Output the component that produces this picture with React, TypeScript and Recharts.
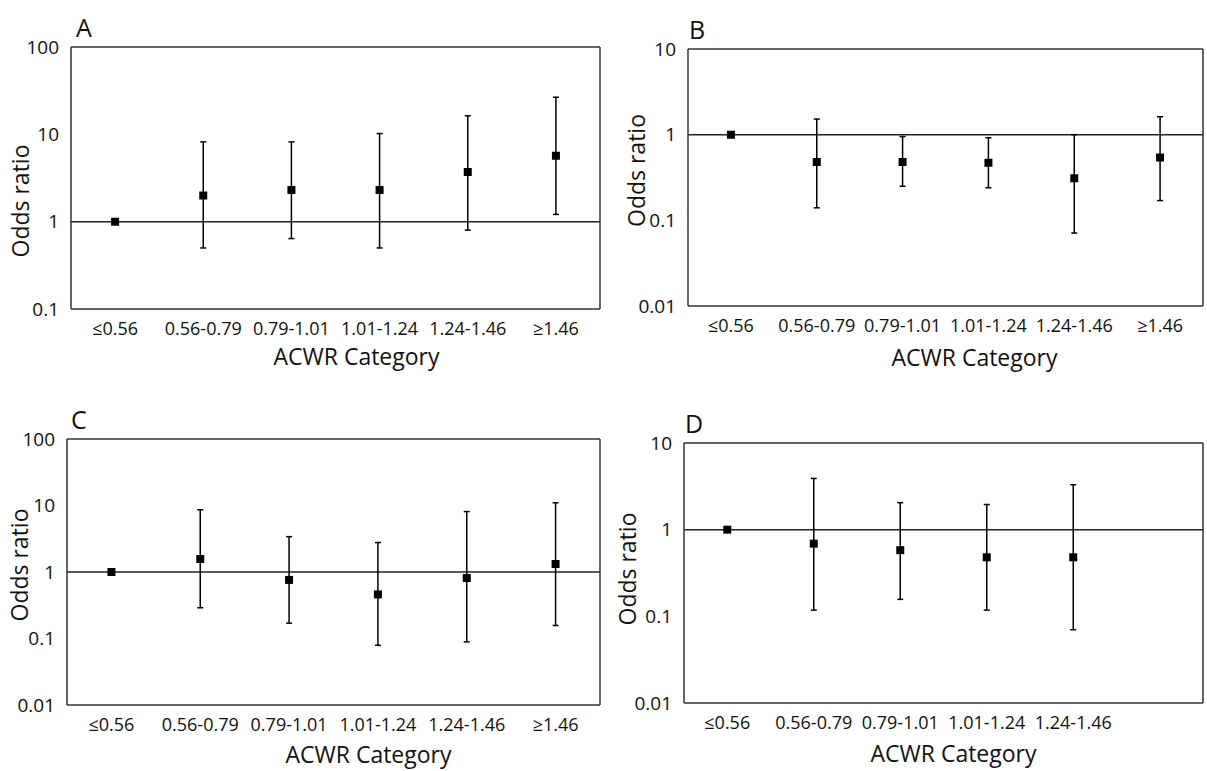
import {
  ComposedChart,
  Scatter,
  ErrorBar,
  XAxis,
  YAxis,
  ZAxis,
  ReferenceLine,
} from "recharts";

// ACWR categories (panel D has no data in the last one)
const categories = ["≤0.56", "0.56-0.79", "0.79-1.01", "1.01-1.24", "1.24-1.46", "≥1.46"];
const categoriesD = ["≤0.56", "0.56-0.79", "0.79-1.01", "1.01-1.24", "1.24-1.46", ""];

// odds ratio, lower CI, upper CI (reference category = 1)
const orA = [1, 2.0, 2.3, 2.3, 3.7, 5.7];
const loA = [1, 0.5, 0.64, 0.5, 0.8, 1.21];
const hiA = [1, 8.2, 8.2, 10.2, 16.3, 26.6];

const orB = [1, 0.48, 0.48, 0.47, 0.31, 0.54];
const loB = [1, 0.14, 0.25, 0.24, 0.071, 0.17];
const hiB = [1, 1.52, 0.95, 0.92, 1.0, 1.62];

const orC = [1, 1.57, 0.76, 0.46, 0.81, 1.32];
const loC = [1, 0.29, 0.17, 0.079, 0.089, 0.157];
const hiC = [1, 8.6, 3.4, 2.77, 8.1, 11];

const orD = [1, 0.69, 0.58, 0.48, 0.48];
const loD = [1, 0.118, 0.157, 0.118, 0.07];
const hiD = [1, 3.9, 2.05, 1.95, 3.3];

const ticksA = [0.1, 1, 10, 100];
const ticksB = [0.01, 0.1, 1, 10];
const ticksC = [0.01, 0.1, 1, 10, 100];
const ticksD = [0.01, 0.1, 1, 10];

const FONT = "'Open Sans', 'DejaVu Sans', sans-serif";
const INK = "#111";

function rows(or: number[], lo: number[], hi: number[]) {
  return or.map((v, i) => ({ idx: i, or: v, err: [v - lo[i], hi[i] - v] }));
}

function Panel(props: {
  letter: string;
  left: number;
  top: number;
  width: number;
  height: number;
  margin: { top: number; right: number; bottom: number; left: number };
  cats: string[];
  data: { idx: number; or: number; err: number[] }[];
  ticks: number[];
  yLabelDx: number;
  yLabelDy: number;
  xLabelDx: number;
  xLabelDy: number;
  letterX: number;
  letterY: number;
}) {
  const { cats, ticks } = props;
  const yMax = ticks[ticks.length - 1];
  return (
    <div style={{ position: "absolute", left: props.left, top: props.top }}>
      <div
        style={{
          position: "absolute",
          left: props.letterX,
          top: props.letterY,
          fontFamily: FONT,
          fontSize: 25,
          color: INK,
          lineHeight: 1,
        }}
      >
        {props.letter}
      </div>
      <ComposedChart
        width={props.width}
        height={props.height}
        margin={props.margin}
        style={{ fontFamily: FONT }}
      >
        <XAxis
          type="number"
          dataKey="idx"
          domain={[-0.5, cats.length - 0.5]}
          ticks={cats.map((_, i) => i)}
          tickFormatter={(i: number) => cats[i]}
          interval={0}
          height={40}
          tickLine={false}
          tickSize={0}
          tickMargin={13}
          axisLine={{ stroke: "#333", strokeWidth: 1.5 }}
          tick={{ fontSize: 18, fill: INK }}
          label={{
            value: "ACWR Category",
            content: (p: any) => {
              const vb = p.viewBox;
              return (
                <text
                  x={vb.x + vb.width / 2 + props.xLabelDx}
                  y={vb.y + props.xLabelDy}
                  textAnchor="middle"
                  dominantBaseline="central"
                  fontSize={23}
                  fill={INK}
                >
                  ACWR Category
                </text>
              );
            },
          }}
        />
        <YAxis
          type="number"
          dataKey="or"
          scale="log"
          domain={[ticks[0], yMax]}
          allowDataOverflow
          ticks={ticks}
          tickFormatter={(v: number) => String(v)}
          width={60}
          tickLine={false}
          tickSize={0}
          tickMargin={12}
          axisLine={{ stroke: "#333", strokeWidth: 1.5 }}
          tick={{ fontSize: 19, fill: INK }}
          label={{
            value: "Odds ratio",
            content: (p: any) => {
              const vb = p.viewBox;
              const x = vb.x + props.yLabelDx;
              const y = vb.y + vb.height / 2 + props.yLabelDy;
              return (
                <text
                  x={x}
                  y={y}
                  transform={`rotate(-90 ${x} ${y})`}
                  textAnchor="middle"
                  dominantBaseline="central"
                  fontSize={23}
                  fill={INK}
                >
                  Odds ratio
                </text>
              );
            },
          }}
        />
        <ZAxis range={[45, 45]} />
        {/* frame: top and right edges */}
        <ReferenceLine y={yMax} stroke="#333" strokeWidth={1.5} />
        <ReferenceLine x={cats.length - 0.5} stroke="#333" strokeWidth={1.5} />
        {/* line of no effect */}
        <ReferenceLine y={1} stroke="#222" strokeWidth={1.5} />
        <Scatter data={props.data} shape="square" fill="#000" isAnimationActive={false}>
          <ErrorBar dataKey="err" direction="y" width={3} stroke="#000" strokeWidth={1.5} />
        </Scatter>
      </ComposedChart>
    </div>
  );
}

export default function App() {
  return (
    <div
      style={{
        position: "absolute",
        left: 0,
        top: 0,
        width: 1207,
        height: 771,
        background: "#fff",
        overflow: "hidden",
      }}
    >
      <Panel
        letter="A"
        left={0}
        top={0}
        width={605}
        height={385}
        margin={{ top: 47, right: 5, bottom: 36, left: 11 }}
        cats={categories}
        data={rows(orA, loA, hiA)}
        ticks={ticksA}
        yLabelDx={9}
        yLabelDy={23}
        xLabelDx={21}
        xLabelDy={47}
        letterX={76}
        letterY={15}
      />
      <Panel
        letter="B"
        left={605}
        top={0}
        width={602}
        height={385}
        margin={{ top: 49, right: 4, bottom: 39, left: 23 }}
        cats={categories}
        data={rows(orB, loB, hiB)}
        ticks={ticksB}
        yLabelDx={8}
        yLabelDy={-7}
        xLabelDx={29}
        xLabelDy={51}
        letterX={84}
        letterY={17}
      />
      <Panel
        letter="C"
        left={0}
        top={385}
        width={605}
        height={386}
        margin={{ top: 54, right: 5, bottom: 26, left: 7 }}
        cats={categories}
        data={rows(orC, loC, hiC)}
        ticks={ticksC}
        yLabelDx={12}
        yLabelDy={-7}
        xLabelDx={35}
        xLabelDy={49}
        letterX={71}
        letterY={22}
      />
      <Panel
        letter="D"
        left={605}
        top={385}
        width={602}
        height={386}
        margin={{ top: 58, right: 4, bottom: 28, left: 19 }}
        cats={categoriesD}
        data={rows(orD, loD, hiD)}
        ticks={ticksD}
        yLabelDx={3}
        yLabelDy={-4}
        xLabelDx={10}
        xLabelDy={50}
        letterX={80}
        letterY={26}
      />
    </div>
  );
}
